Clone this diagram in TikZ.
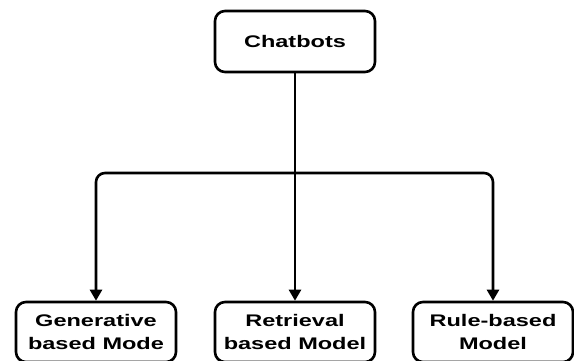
\documentclass[tikz,border=0pt]{standalone}
\usepackage{fontspec}
\newfontfamily\boxfont[FakeStretch=1.4]{Liberation Sans}
\usepackage{tikz}
\usetikzlibrary{arrows.meta}
\tikzstyle{topbox} = [rectangle, rounded corners=10pt, minimum width=160pt, minimum height=61pt, text centered, draw=black, fill=white, line width=2.6pt, font=\boxfont\bfseries\fontsize{16.8}{23}\selectfont]
\tikzstyle{leafbox} = [topbox, minimum height=60pt, align=center]
\tikzstyle{arrow} = [line width=2.6pt, rounded corners=9pt, -{Triangle[width=12pt,length=11pt]}]

\begin{document}
\begin{tikzpicture}[node distance=199pt]
    \useasboundingbox (0pt,0pt) rectangle (574pt,-360pt);
    \clip (0pt,0pt) rectangle (574pt,-360pt);
    % Nodes
    \node (chatbots) [topbox] at (295pt,-41.5pt) {Chatbots};
    \node (retrieval) [leafbox, below of=chatbots, node distance=290.5pt] {Retrieval\\based Model};
    \node (generative) [leafbox, left of=retrieval] {Generative\\based Mode};
    \node (rulebased) [leafbox, right of=retrieval, xshift=-1pt] {Rule-based\\Model};
    \coordinate (split) at (295pt,-173pt);
    % Arrows
    \draw [arrow] (chatbots) -- (retrieval);
    \draw [arrow] (split) -| (generative);
    \draw [arrow] (split) -| (rulebased);
\end{tikzpicture}
\end{document}
